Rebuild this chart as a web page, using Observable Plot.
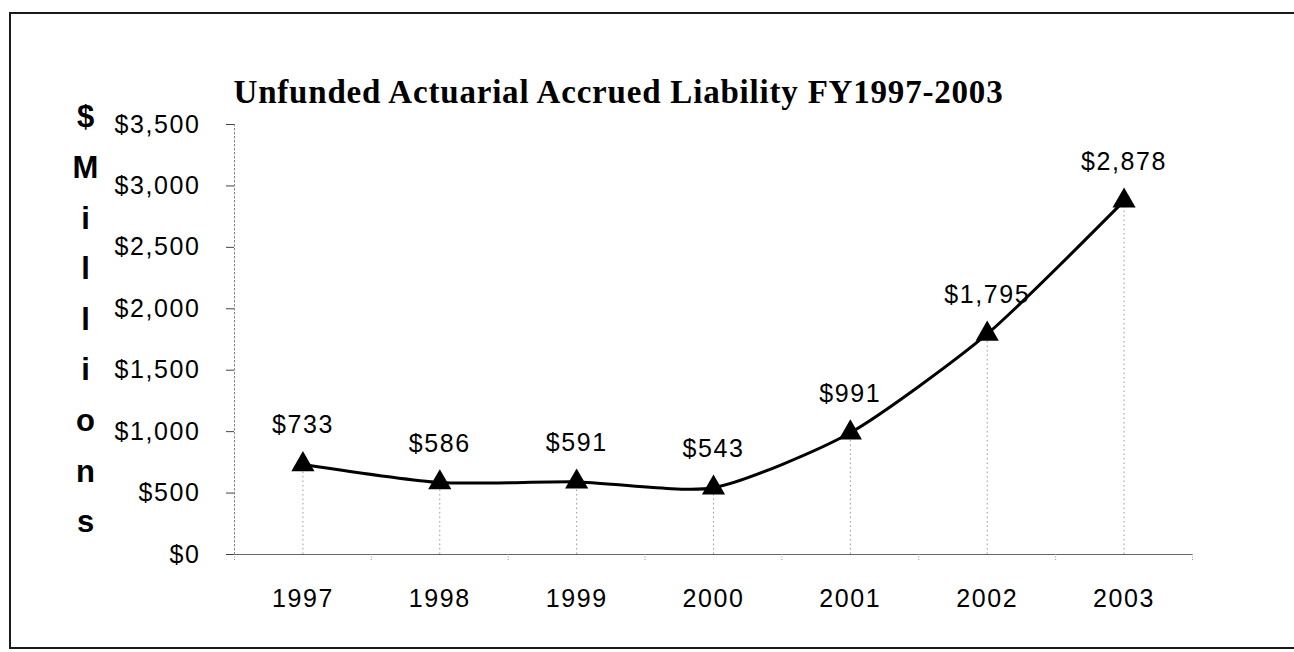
<!DOCTYPE html>
<html>
<head>
<meta charset="utf-8">
<script src="https://cdn.jsdelivr.net/npm/d3@7"></script>
<script src="https://cdn.jsdelivr.net/npm/@observablehq/plot@0.6"></script>
<style>
  html, body { margin: 0; padding: 0; background: #fff; }
  body { width: 1294px; height: 652px; position: relative; overflow: hidden; }
  #frame { position: absolute; left: 9px; top: 12px; width: 1310px; height: 637px; border: 2px solid #1a1a1a; box-sizing: border-box; }
  #chart { position: absolute; left: 0; top: 0; }
  #chart svg text { letter-spacing: 1.6px; }
</style>
</head>
<body>
<div id="frame"></div>
<div id="chart"></div>
<script>
const years = [1997, 1998, 1999, 2000, 2001, 2002, 2003];
const values = [733, 586, 591, 543, 991, 1795, 2878];
const yTicks = [0, 500, 1000, 1500, 2000, 2500, 3000, 3500];
const title = "Unfunded Actuarial Accrued Liability FY1997-2003";
const yLabel = ["$", "M", "i", "l", "l", "i", "o", "n", "s"];

const data = years.map((y, i) => ({year: y, value: values[i]}));
const bounds = [years[0] - 0.5, ...years.map(y => y + 0.5)];
const money = v => "$" + d3.format(",")(v);
const sans = "'Liberation Sans', Arial, Helvetica, sans-serif";

const plot = Plot.plot({
  width: 1294,
  height: 652,
  marginTop: 124,
  marginBottom: 98,
  marginLeft: 234,
  marginRight: 102,
  style: {fontFamily: sans, background: "transparent", color: "#000", overflow: "visible"},
  x: {type: "linear", domain: [bounds[0], bounds[bounds.length - 1]]},
  y: {domain: [0, 3500]},
  marks: [
    Plot.frame({anchor: "left", stroke: "#888", strokeDasharray: "1.5,2.5"}),
    Plot.ruleX(data, {x: "year", y1: 0, y2: "value", stroke: "#999", strokeDasharray: "1.5,3"}),
    Plot.ruleY([0], {stroke: "#666", strokeWidth: 1.2}),
    Plot.axisY({ticks: yTicks, tickFormat: money, tickSize: 8, tickPadding: 26, fontSize: 25, stroke: "#444", label: null}),
    Plot.axisX({ticks: years, tickFormat: d => String(d), tickSize: 0, tickPadding: 35, fontSize: 25, label: null}),
    Plot.axisX({ticks: bounds, tickFormat: () => "", tickSize: 6, stroke: "#999", strokeDasharray: "1,1.5", label: null}),
    Plot.line(data, {x: "year", y: "value", curve: "cardinal", tension: 0.35, stroke: "#000", strokeWidth: 3}),
    Plot.dot(data, {x: "year", y: "value", symbol: "triangle", r: 8.6, fill: "#000", stroke: "none"}),
    Plot.text(data, {x: "year", y: "value", text: d => money(d.value), dy: -39, fontSize: 25, fill: "#000"}),
    Plot.text([yLabel.join("\n")], {frameAnchor: "top-left", dx: -149, dy: -33, lineAnchor: "top", lineHeight: 1.632, textAnchor: "middle", fontSize: 31, fontWeight: "bold", fill: "#000"}),
    Plot.text([title], {frameAnchor: "top-left", dx: -1, dy: -22, lineAnchor: "bottom", textAnchor: "start", fontSize: 33, fontWeight: "bold", fontFamily: "'Liberation Serif', 'Times New Roman', Times, serif", fill: "#000"})
  ]
});

document.getElementById("chart").appendChild(plot);
d3.select(plot).selectAll("text").filter(function() { return this.textContent === title; }).style("letter-spacing", "0.8px");
d3.select(plot).selectAll("text").filter(function() { return this.textContent.startsWith("$M"); }).style("letter-spacing", "0px");
</script>
</body>
</html>
